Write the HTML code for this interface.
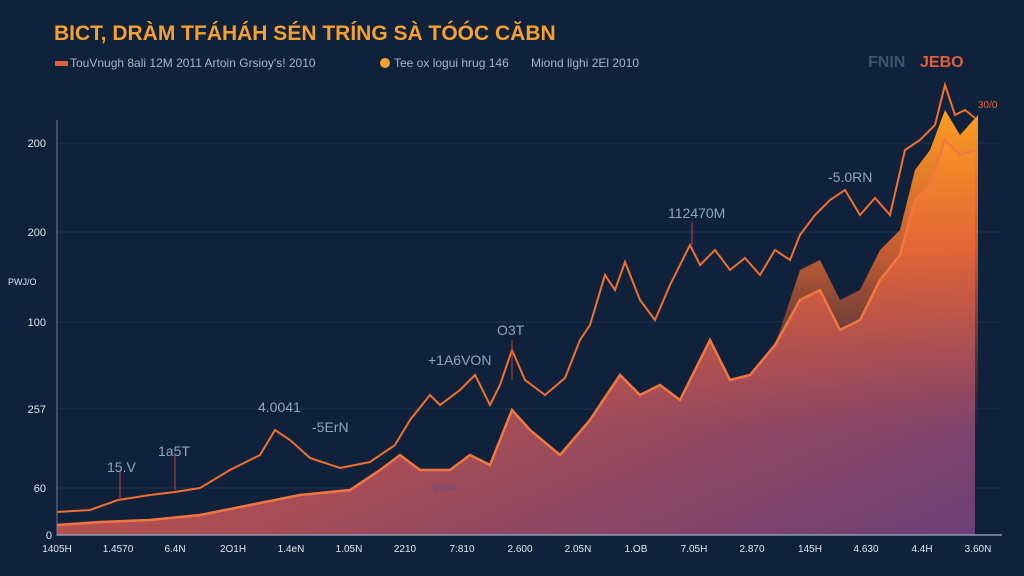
<!DOCTYPE html>
<html><head><meta charset="utf-8"><style>
html,body{margin:0;padding:0;background:#10223b;width:1024px;height:576px;overflow:hidden}
svg{display:block}
text{font-family:"Liberation Sans",sans-serif}
</style></head><body>
<svg width="1024" height="576" viewBox="0 0 1024 576">
<defs>
<linearGradient id="ar" x1="0" y1="0" x2="1" y2="1">
<stop offset="0" stop-color="#c0523a"/><stop offset="0.5" stop-color="#b4504e"/><stop offset="1" stop-color="#6b3f78"/>
</linearGradient>
<linearGradient id="ar2" gradientUnits="userSpaceOnUse" x1="0" y1="110" x2="0" y2="430">
<stop offset="0" stop-color="#ffa020"/><stop offset="0.45" stop-color="#f06a30" stop-opacity="0.8"/><stop offset="1" stop-color="#c05040" stop-opacity="0"/>
</linearGradient>
</defs>
<rect width="1024" height="576" fill="#10223b"/>
<text x="54" y="40" font-size="21" font-weight="bold" fill="#f5a030">BICT, DRÀM TFÁHÁH SÉN TRÍNG SÀ TÓÓC CĂBN</text>
<rect x="55" y="61" width="13" height="5" fill="#e0603a"/>
<text x="70" y="67" font-size="12" fill="#a8b4c8">TouVnugh 8ali 12M 2011   Artoin Grsioy's! 2010</text>
<circle cx="385" cy="63" r="5" fill="#f5a030"/>
<text x="394" y="67" font-size="12" fill="#a8b4c8">Tee ox logui hrug 146</text>
<text x="531" y="67" font-size="12" fill="#a8b4c8">Miond llghi 2El 2010</text>
<text x="868" y="67" font-size="16" font-weight="bold" fill="#3d5470">FNIN</text>
<text x="920" y="67" font-size="16" font-weight="bold" fill="#e0603a">JEBO</text>
<g stroke="#1f3450" stroke-width="1">
<line x1="57" y1="143" x2="1000" y2="143"/><line x1="57" y1="232" x2="1000" y2="232"/>
<line x1="57" y1="322" x2="1000" y2="322"/><line x1="57" y1="409" x2="1000" y2="409"/><line x1="57" y1="488" x2="1000" y2="488"/>
</g>
<g font-size="11" fill="#dfe6f0" text-anchor="end">
<text x="46" y="147">200</text><text x="46" y="236">200</text><text x="46" y="326">100</text><text x="46" y="413">257</text><text x="46" y="492">60</text><text x="52" y="539">0</text>
</g>
<text x="8" y="285" font-size="9" fill="#dfe6f0">PWJ/O</text>
<path d="M57,525 L100,522 150,520 200,515 250,505 300,495 350,490 380,470 400,455 420,470 450,470 470,455 490,465 512,410 530,430 560,455 590,420 620,375 640,395 660,385 680,400 710,340 730,380 750,375 775,345 800,300 820,290 840,330 860,320 880,280 900,255 915,200 930,185 945,140 960,155 975,150 L975,535 57,535Z" fill="url(#ar)"/>
<path d="M600,400 620,375 640,395 660,385 680,400 710,340 730,380 750,375 775,345 800,270 820,260 840,300 860,290 880,250 900,230 915,170 930,150 945,110 960,135 978,115 L978,535 600,535Z" fill="url(#ar2)"/>
<path d="M57,525 L100,522 150,520 200,515 250,505 300,495 350,490 380,470 400,455 420,470 450,470 470,455 490,465 512,410 530,430 560,455 590,420 620,375 640,395 660,385 680,400 710,340 730,380 750,375 775,345 800,300 820,290 840,330 860,320 880,280 900,255 915,200 930,185 945,140 960,155 975,150" fill="none" stroke="#f07840" stroke-width="2.5"/>
<path d="M57,512 L90,510 118,500 150,495 175,492 200,488 230,470 260,455 275,430 290,440 310,458 340,468 370,462 395,445 410,420 430,395 440,405 460,390 475,375 490,405 500,385 512,350 525,380 545,395 565,378 580,340 590,325 605,275 615,290 625,262 640,300 655,320 670,285 690,245 700,265 715,250 730,270 745,258 760,275 775,250 790,260 800,235 815,215 830,200 845,190 860,215 875,198 890,215 905,150 920,140 935,125 945,85 955,115 965,110 975,118" fill="none" stroke="#f07030" stroke-width="2"/>
<g stroke="#c04040" stroke-width="1"><line x1="120" y1="470" x2="120" y2="500"/><line x1="175" y1="455" x2="175" y2="490"/><line x1="512" y1="340" x2="512" y2="380"/><line x1="692" y1="222" x2="692" y2="245"/></g>
<g font-size="14" fill="#8fa6c0">
<text x="107" y="472">15.V</text><text x="158" y="456">1a5T</text><text x="258" y="412">4.0041</text><text x="312" y="432">-5ErN</text>
<text x="428" y="365">+1A6VON</text><text x="497" y="335">O3T</text><text x="668" y="218">112470M</text><text x="828" y="182">-5.0RN</text>
</g>
<text x="433" y="491" font-size="10" fill="#6a4a7a">tnhW</text>
<text x="978" y="108" font-size="10" fill="#e0603a">30/0</text>
<line x1="57" y1="120" x2="57" y2="536" stroke="#6a7a90"/>
<line x1="57" y1="535" x2="1002" y2="535" stroke="#8a9ab0" stroke-width="1.5"/>
<g font-size="10" fill="#dfe6f0" text-anchor="middle">
<text x="57" y="552">1405H</text><text x="118" y="552">1.4570</text><text x="175" y="552">6.4N</text><text x="233" y="552">2O1H</text>
<text x="291" y="552">1.4eN</text><text x="349" y="552">1.05N</text><text x="405" y="552">2210</text><text x="462" y="552">7:810</text>
<text x="520" y="552">2.600</text><text x="578" y="552">2.05N</text><text x="636" y="552">1.OB</text><text x="694" y="552">7.05H</text>
<text x="752" y="552">2.870</text><text x="810" y="552">145H</text><text x="866" y="552">4.630</text><text x="922" y="552">4.4H</text><text x="978" y="552">3.60N</text>
</g>
</svg>
</body></html>
